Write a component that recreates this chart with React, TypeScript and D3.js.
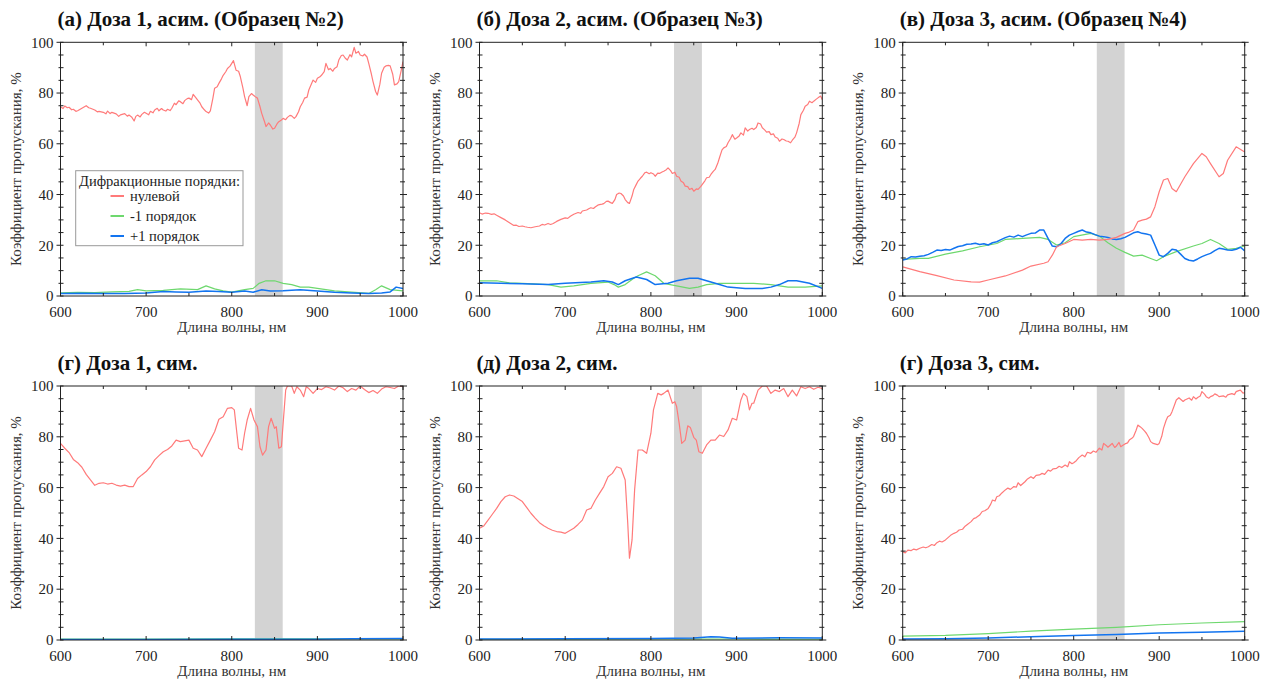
import React from "react";
import * as d3 from "d3";

type P = [number, number];

// ---------- Panel (а) ----------
const zeroA: P[] = [[600,74.6],[603,73.9],[605,74.9],[608,74.2],[610,74.4],[613,73.4],[615,73.6],[618,72.8],[620,73],[625,74],[630,75],[633,74.2],[635,74],[640,73.3],[643,72.6],[645,72.8],[650,72.4],[653,71.8],[655,72.9],[658,71.9],[660,72.4],[665,71.8],[668,70.8],[670,71.4],[675,71.9],[678,70.9],[680,71.3],[683,70.6],[686,69],[688,70.8],[690,71.3],[693,70.6],[695,71.6],[698,72.4],[700,72],[703,71.4],[705,72.8],[708,72.2],[710,73.3],[713,74],[715,73],[718,73.9],[720,73.3],[723,72.9],[725,73.6],[728,73.1],[730,74],[733,76],[735,75.4],[738,76.9],[740,76.6],[743,75.8],[745,77],[748,77.8],[750,78],[753,77.4],[755,79.5],[758,78.2],[760,77.3],[763,76],[765,74.6],[768,73.4],[770,72.7],[773,72.1],[775,73],[778,78],[780,81.9],[783,82.5],[785,83.8],[788,85.6],[790,87],[793,88.4],[795,89.7],[798,90.6],[800,91.7],[802,92.8],[805,89],[808,88.6],[810,86.5],[813,82],[815,78.6],[818,75],[820,78.6],[823,79.8],[825,79.2],[828,78.4],[830,78],[833,74.6],[835,72],[838,69],[840,66.8],[843,68.2],[845,67.4],[848,65.8],[850,66.1],[853,67.9],[855,68.7],[858,69.4],[860,70],[863,69.5],[865,70.4],[868,71.2],[870,71],[873,70],[875,70.7],[878,72.6],[880,74.6],[883,76.4],[885,78],[888,78.4],[890,81.2],[893,83.6],[895,85.1],[898,84.2],[900,85.8],[903,86.4],[905,87.1],[908,88.4],[910,91.7],[913,89.2],[915,89.7],[918,88.6],[920,89.7],[923,90.4],[925,93],[928,94.8],[930,95],[933,93.6],[935,93],[938,95.1],[940,94.3],[943,98],[945,95.7],[948,96.4],[950,95],[953,94.6],[955,95.3],[958,94.2],[960,91.7],[963,87.6],[965,84.5],[968,80.6],[970,79.2],[973,83.5],[975,87.8],[978,90.2],[980,90.7],[983,90.9],[985,90.7],[988,87.4],[990,83.2],[993,83.6],[995,84.5],[998,89],[1000,92.4]];
const minusA: P[] = [[600,1.2],[620,1.4],[640,1.3],[660,1.6],[680,1.8],[690,2.5],[700,2],[720,2.2],[740,2.8],[760,2.5],[770,4],[780,2.8],[790,2],[800,1.5],[815,2.5],[825,3],[832,5],[840,6],[850,6],[860,5],[870,4.5],[880,3.5],[890,3.5],[900,3],[920,2],[940,1.5],[960,1],[968,2.5],[975,4],[985,2.5],[1000,2]];
const plusA: P[] = [[600,1],[625,1.1],[650,1],[675,1],[700,1.2],[720,1.8],[735,1.6],[750,1.5],[770,2],[785,1.8],[800,1.5],[815,2],[825,1.5],[835,2.5],[845,2],[860,2.1],[880,2.5],[900,2],[920,1.5],[940,1.2],[960,1],[975,1.2],[985,1.6],[992,3.5],[1000,3]];

// ---------- Panel (б) ----------
const zeroB: P[] = [[600,32.8],[603,32.3],[607,32.7],[610,32.6],[614,32.2],[617,32.4],[620,31.8],[625,30.9],[630,30],[635,28.9],[640,27.8],[643,27.9],[646,27.4],[650,27.6],[653,27.3],[656,27.1],[660,26.9],[665,27.3],[670,27.6],[673,28.2],[676,28],[680,28.6],[683,28.2],[686,28.6],[690,29.4],[695,30.2],[700,30.8],[703,30.6],[706,31.4],[710,32.2],[715,32.9],[718,32.6],[720,33.5],[725,33.9],[728,34.5],[730,34.8],[733,34.5],[735,35.1],[738,35.8],[740,36],[743,36.2],[745,36.4],[748,37.3],[750,37.4],[753,36.8],[755,36.5],[758,38],[760,40],[763,40.6],[765,40.4],[768,39.4],[770,38],[773,36.8],[775,36.5],[778,39.4],[780,42],[783,44],[785,45.3],[788,46.5],[790,47.2],[793,48.6],[795,48.8],[798,48.2],[800,48.6],[803,48.1],[805,47.2],[808,48.4],[810,48.3],[813,48.9],[815,49.2],[818,49.8],[820,50.5],[823,49.4],[825,48.3],[828,48.8],[830,47.2],[833,46.8],[835,45.3],[838,44.6],[840,43.3],[843,43.1],[845,42],[848,42.4],[850,41.3],[853,42.2],[855,42],[858,43.1],[860,44],[863,45.4],[865,46.6],[868,46.8],[870,47.9],[873,49.2],[875,49.9],[878,52.3],[880,54.5],[883,57.6],[885,58.4],[888,58.9],[890,60.4],[893,62.1],[895,63.6],[898,61.8],[900,62.3],[903,63.1],[905,64.3],[908,63.4],[910,66.3],[913,65],[915,65.6],[918,66.1],[920,65.6],[923,66.4],[925,68.2],[928,67.8],[930,66.3],[933,65.4],[935,64.6],[938,64.8],[940,63.6],[943,63.9],[945,62.7],[948,62.2],[950,61],[953,61.9],[955,61.7],[958,61.1],[960,61],[963,60.4],[965,61.4],[968,62.6],[970,64.3],[973,68],[975,71.5],[978,73.2],[980,74.8],[983,75.5],[985,76.8],[988,76.2],[990,76.8],[993,77.6],[995,78.1],[998,78.8],[1000,77.4]];
const minusB: P[] = [[600,6],[620,6],[635,5.2],[650,5],[680,4.5],[695,3.5],[710,4],[730,5],[750,5.5],[757,4.5],[762,3.5],[770,4.5],[780,7],[785,8],[795,9.5],[805,8],[815,5],[830,4],[845,3],[855,3.5],[865,4.5],[880,5],[900,5],[920,5],[940,4.5],[960,3.5],[980,3.5],[1000,4]];
const plusB: P[] = [[600,5.2],[625,5],[650,4.8],[680,4.5],[700,5],[730,5.5],[745,6],[755,5.5],[762,4.5],[770,6],[783,7.5],[795,6.5],[805,4.5],[820,5],[830,6],[845,7],[855,7],[865,6],[880,4.5],[890,3.5],[910,3],[930,3],[940,3.5],[950,4.5],[960,6],[970,6],[985,5],[1000,3]];

// ---------- Panel (в) ----------
const zeroC: P[] = [[600,11.5],[620,9.6],[640,8],[660,6.3],[680,5.6],[690,5.5],[700,6.3],[720,7.9],[740,10.2],[750,11.8],[765,12.9],[770,13.5],[775,16.1],[780,19.4],[790,20.7],[800,22.3],[810,22],[820,22.3],[830,22],[840,22.3],[850,23.1],[860,24.7],[865,25.2],[870,26],[875,29.3],[880,29.9],[885,30.3],[890,31.2],[895,35.2],[900,41.1],[905,45.7],[910,46.3],[915,42.4],[920,41.1],[930,47],[940,52.2],[950,56.2],[955,54.9],[960,52.2],[970,47],[975,48.3],[980,53.5],[990,58.8],[1000,56.8]];
const minusC: P[] = [[600,14.4],[620,14.8],[630,14.8],[650,16.5],[670,17.8],[690,19.4],[710,20.7],[720,22.3],[740,22.7],[760,23.1],[770,22.3],[780,20.1],[790,21],[800,23.4],[820,24.7],[830,23.6],[840,21],[850,18.8],[860,17.2],[870,15.7],[880,16.1],[890,14.8],[897,13.9],[905,15.5],[920,17.5],[940,19.7],[950,20.7],[960,22.3],[970,20.7],[980,18.4],[990,18.8],[1000,19.7]];
const plusC: P[] = [[600,14.2],[605,14.6],[610,15.5],[615,15.4],[620,15.7],[625,15.9],[630,16.4],[635,17.2],[640,18.1],[645,17.9],[650,18.3],[655,18.1],[660,18.8],[665,19.5],[670,19.8],[675,20.4],[680,20.5],[685,20.8],[690,20.3],[695,20.6],[700,20.1],[705,21],[710,21.4],[715,22.2],[720,23],[725,23.6],[730,23.2],[735,24],[740,23.4],[745,24.1],[750,24.7],[755,24.8],[760,26],[765,26],[770,22.7],[775,19.7],[780,19.4],[785,20.6],[790,22.7],[795,24],[800,24.7],[805,25.4],[810,26],[815,25.2],[820,24.9],[825,24.2],[830,23.6],[835,23.4],[840,23.1],[845,22.5],[850,22.3],[855,22.6],[860,23.1],[865,24],[870,24.9],[875,25.3],[880,24.7],[885,24.4],[890,24],[895,20.1],[900,16.1],[905,15.5],[910,16.8],[915,18.4],[920,18.1],[925,16.5],[930,14.8],[935,14.1],[940,13.8],[945,14.6],[950,15.5],[955,16.2],[960,16.8],[965,17.9],[970,18.8],[975,18.5],[980,18.1],[985,18],[990,18.4],[995,19.2],[1000,17.8]];

// ---------- Panel (г) ----------
const zeroD: P[] = [[600,77.4],[605,75.5],[610,73.8],[615,71.1],[620,69.8],[625,68],[630,65.2],[635,63],[640,60.9],[645,61.7],[650,61.9],[655,61.4],[660,61.7],[665,61],[670,60.6],[675,61],[680,60.4],[685,60.4],[690,63.6],[695,65],[700,66.3],[705,68.2],[710,70.9],[715,72.6],[720,74.1],[725,75],[730,76.4],[735,78.7],[740,78.1],[745,78.4],[750,78.7],[755,75.5],[760,74.8],[765,72.2],[770,75.5],[775,78.7],[780,82],[785,86.9],[790,87.9],[795,91.2],[800,91.5],[803,90.6],[806,81.4],[808,75.5],[812,74.8],[815,81.4],[818,86.6],[822,91.2],[826,86.6],[830,84],[833,76.1],[836,72.8],[840,74.8],[843,84],[846,87.3],[850,83.3],[852,84],[855,75.5],[858,76.1],[860,85.3],[863,98.4],[865,100],[870,100],[873,97.1],[876,99.7],[880,98.4],[884,95.8],[887,99.7],[890,99],[895,97.1],[900,99],[905,98.6],[910,99.7],[915,99.2],[920,98.4],[925,100],[930,99.3],[935,97.8],[940,99],[945,98.4],[950,100],[955,98.6],[960,97.4],[965,98.2],[970,97.1],[975,98.8],[980,99.7],[985,99.4],[990,99],[995,100],[1000,99.7]];
const minusD: P[] = [[600,0.4],[700,0.4],[800,0.5],[900,0.5],[1000,0.4]];
const plusD: P[] = [[600,0.2],[700,0.2],[800,0.3],[900,0.3],[940,0.5],[1000,0.6]];

// ---------- Panel (д) ----------
const zeroE: P[] = [[600,44],[605,44.9],[610,47.2],[615,49.5],[620,51.8],[625,54.5],[630,56.4],[635,57.1],[640,56.7],[645,55.6],[650,54.5],[655,52.2],[660,49.9],[665,48],[670,46.2],[675,45],[680,44],[685,43.2],[690,42.7],[695,42.5],[700,42],[705,43],[710,44],[715,45.5],[720,47.2],[725,51.2],[730,51.8],[735,55],[740,57.7],[745,60.4],[750,64.3],[755,65.6],[760,68.2],[765,67.6],[770,63],[773,45.9],[775,32.2],[778,39.4],[781,59.1],[785,74.8],[790,74.8],[795,73.5],[800,81.4],[803,90.6],[808,97.1],[812,96.5],[815,97.1],[820,98.4],[825,93.2],[828,93.8],[830,91.9],[833,85.3],[836,77.4],[840,78.7],[843,84.3],[846,83.7],[850,79.8],[853,78.7],[856,74.1],[860,73.5],[865,76.8],[870,78.7],[875,78.7],[880,80.7],[885,80.1],[890,82.7],[895,87.3],[900,86.6],[905,94.5],[908,97.1],[912,95.8],[915,90.6],[918,93.2],[920,93.2],[925,98.4],[930,100],[935,100],[940,97.1],[945,98.4],[950,97.8],[955,99],[960,95.8],[965,98.4],[970,96.1],[975,99.7],[980,99],[985,99.7],[990,98.7],[995,99.5],[1000,99]];
const minusE: P[] = [[600,0.3],[700,0.3],[800,0.4],[900,0.4],[1000,0.3]];
const plusE: P[] = [[600,0.4],[700,0.5],[800,0.6],[850,0.8],[870,1.3],[880,1.2],[895,0.7],[950,0.9],[1000,0.8]];

// ---------- Panel (е) ----------
const zeroF: P[] = [[600,34.8],[603,34.3],[606,35.4],[610,35.2],[613,35.8],[616,35.5],[620,36.1],[624,36.6],[627,36.3],[630,36.7],[634,37.6],[637,37.2],[640,38.3],[643,38.9],[646,38.6],[650,39.4],[653,40.3],[656,41.2],[660,42],[663,42.4],[666,43.3],[670,43.6],[673,44.8],[676,45.6],[680,46.6],[683,47.8],[686,48.2],[690,49.2],[693,50.6],[696,50.9],[700,51.8],[703,53.5],[705,55.1],[708,54.7],[710,56.4],[713,56.8],[716,57.9],[720,59.1],[723,59.8],[726,59.3],[730,60.4],[733,60.2],[735,61.9],[738,60.8],[740,61.4],[743,62.3],[746,63.4],[750,64.3],[753,63.6],[756,64.8],[760,65],[763,65.6],[766,65.2],[770,66.9],[773,66.5],[776,67.4],[780,67.6],[783,68.4],[786,67.9],[790,68.9],[793,68.2],[795,70.2],[798,69.4],[800,69.8],[803,70.6],[806,71.8],[810,72.8],[813,72.1],[816,73.9],[820,73.5],[823,74.4],[826,73.9],[830,75.5],[833,74.8],[835,77.4],[838,76.6],[840,75.9],[843,76.8],[845,77.4],[848,75.8],[850,76.4],[853,77.8],[855,76.1],[858,76.8],[860,77.2],[863,77.6],[865,78.7],[868,79.4],[870,80.1],[873,82.6],[875,84.6],[878,83.9],[880,83.3],[883,82.2],[885,81.4],[888,79.6],[890,78.1],[893,77.4],[895,77.2],[898,76.9],[900,77.4],[903,80.2],[905,83.3],[908,86.4],[910,87.9],[913,88.5],[915,89.9],[918,92.6],[920,94.5],[923,95.4],[925,94.8],[928,93.9],[930,94.5],[935,95.3],[938,94.4],[940,95.8],[943,94.9],[945,95.5],[948,96.1],[950,97.8],[953,96.8],[955,95.8],[958,95.2],[960,95.8],[963,96.2],[965,96.9],[968,96.4],[970,95.8],[975,96.1],[978,95.6],[980,96.5],[985,97],[988,96.6],[990,97.8],[993,98.2],[995,98.4],[998,97.2],[1000,97.4]];
const minusF: P[] = [[600,1.5],[650,1.8],[700,2.5],[750,3.5],[800,4.3],[850,5],[900,6],[950,6.7],[1000,7.2]];
const plusF: P[] = [[600,0.4],[650,0.5],[700,0.8],[750,1.3],[800,1.8],[850,2.2],[900,2.8],[950,3.1],[1000,3.4]];

const titles = [
  "(а) Доза 1, асим. (Образец №2)",
  "(б) Доза 2, асим. (Образец №3)",
  "(в) Доза 3, асим. (Образец №4)",
  "(г) Доза 1, сим.",
  "(д) Доза 2, сим.",
  "(г) Доза 3, сим.",
];
const seriesNames = ["нулевой", "-1 порядок", "+1 порядок"];
const legendTitle = "Дифракционные порядки:";
const xLabel = "Длина волны, нм";
const yLabel = "Коэффициент пропускания, %";
const band: [number, number] = [827, 859.5];
const xTicks = [600, 700, 800, 900, 1000];
const yTicks = [0, 20, 40, 60, 80, 100];

const panelsData: P[][][] = [
  [zeroA, minusA, plusA],
  [zeroB, minusB, plusB],
  [zeroC, minusC, plusC],
  [zeroD, minusD, plusD],
  [zeroE, minusE, plusE],
  [zeroF, minusF, plusF],
];

const colors = ["#ff7a7a", "#6ed86e", "#1274f0"];
const widths = [1.2, 1.2, 1.5];
const FONT = "Liberation Serif, Times New Roman, serif";

const cols: [number, number][] = [[60.5, 403], [479.5, 822.3], [902.7, 1244.7]];
const rows: [number, number][] = [[42.3, 296], [386, 640]];

function Panel({ idx }: { idx: number }) {
  const c = cols[idx % 3];
  const r = rows[Math.floor(idx / 3)];
  const x = d3.scaleLinear().domain([600, 1000]).range(c);
  const y = d3.scaleLinear().domain([0, 100]).range([r[1], r[0]]);
  const line = d3.line<P>().x((d) => x(d[0])).y((d) => y(d[1]));
  const clipId = `clip${idx}`;
  const yMinor = d3.range(0, 101, 5);
  const xMinor = d3.range(600, 1001, 50);
  const data = panelsData[idx];
  const tf = { fontFamily: FONT };
  return (
    <g>
      <defs>
        <clipPath id={clipId}>
          <rect x={c[0]} y={r[0]} width={c[1] - c[0]} height={r[1] - r[0]} />
        </clipPath>
      </defs>
      <rect x={x(band[0])} y={r[0]} width={x(band[1]) - x(band[0])} height={r[1] - r[0]} fill="#d3d3d3" />
      <g clipPath={`url(#${clipId})`}>
        {[1, 2, 0].map((s) => (
          <path key={s} d={line(data[s]) || ""} fill="none" stroke={colors[s]} strokeWidth={widths[s]} strokeLinejoin="round" />
        ))}
      </g>
      <rect x={c[0]} y={r[0]} width={c[1] - c[0]} height={r[1] - r[0]} fill="none" stroke="#222" strokeWidth={1} />
      {yMinor.map((v) => {
        const major = v % 20 === 0;
        return (
          <g key={"y" + v}>
            <line x1={c[0] - (major ? 4 : 2)} x2={c[0] + 3} y1={y(v)} y2={y(v)} stroke="#222" />
            <line x1={c[1] - 3} x2={c[1] + (major ? 4 : 2)} y1={y(v)} y2={y(v)} stroke="#222" />
          </g>
        );
      })}
      {xMinor.map((v) => {
        const major = v % 100 === 0;
        return (
          <g key={"x" + v}>
            <line x1={x(v)} x2={x(v)} y1={r[1]} y2={r[1] - (major ? 4 : 3)} stroke="#222" />
            <line x1={x(v)} x2={x(v)} y1={r[0]} y2={r[0] + (major ? 4 : 3)} stroke="#222" />
          </g>
        );
      })}
      {yTicks.map((v) => (
        <text key={"yl" + v} x={c[0] - 7} y={y(v)} dy="0.35em" textAnchor="end" fontSize={15} fill="#222" style={tf}>{v}</text>
      ))}
      {xTicks.map((v) => (
        <text key={"xl" + v} x={x(v)} y={r[1] + 21} textAnchor="middle" fontSize={15} fill="#222" style={tf}>{v}</text>
      ))}
      <text x={(c[0] + c[1]) / 2} y={r[1] + 36} textAnchor="middle" fontSize={15} fill="#333" style={tf}>{xLabel}</text>
      <text transform={`translate(${c[0] - 45},${(r[0] + r[1]) / 2}) rotate(-90)`} dy="0.35em" textAnchor="middle" fontSize={15} fill="#333" style={tf}>{yLabel}</text>
      <text x={c[0] - 3} y={r[0] - 16} fontSize={21} fontWeight="bold" fill="#111" style={tf}>{titles[idx]}</text>
      {idx === 0 && (
        <g>
          <rect x={75.7} y={170.7} width={167.3} height={75} fill="#fff" stroke="#999" strokeWidth={1} />
          <text x={79} y={186} fontSize={14.5} fill="#222" style={tf}>{legendTitle}</text>
          {seriesNames.map((n, i) => (
            <g key={n}>
              <line x1={110.5} x2={124} y1={196 + i * 20} y2={196 + i * 20} stroke={colors[i]} strokeWidth={2} />
              <text x={130} y={196 + i * 20} dy="0.33em" fontSize={14.5} fill="#222" style={tf}>{n}</text>
            </g>
          ))}
        </g>
      )}
    </g>
  );
}

export default function App() {
  return (
    <svg width={1266} height={679} style={{ position: "absolute", left: 0, top: 0, background: "#fff" }}>
      <rect width={1266} height={679} fill="#fff" />
      {[0, 1, 2, 3, 4, 5].map((i) => (
        <Panel key={i} idx={i} />
      ))}
    </svg>
  );
}
